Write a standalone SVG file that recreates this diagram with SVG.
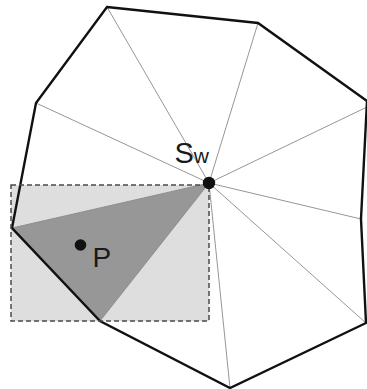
<svg xmlns="http://www.w3.org/2000/svg" width="367" height="389" viewBox="0 0 367 389">
  <style>
    .spoke { stroke: #8a8a8a; stroke-width: 0.9; fill: none; }
    .outline { stroke: #111; stroke-width: 2.4; fill: none; stroke-linejoin: miter; }
    .box { fill: #dedede; stroke: none; }
    .boxedge { fill: none; stroke: #4a4a4a; stroke-width: 1.5; stroke-dasharray: 5 3; }
    .tri { fill: #979797; stroke: none; }
    .dot { fill: #111; }
    .lbl { font-family: "Liberation Sans", Arial, sans-serif; fill: #1a1a1a; }
  </style>
  <rect width="367" height="389" fill="#fff"/>
  <g id="query-box">
    <rect class="box" x="11" y="185" width="198" height="136"/>
  </g>
  <g id="triangle">
    <polygon class="tri" points="209,183 12,228 100,321"/>
  </g>
  <g id="connectors">
    <line class="spoke" x1="209" y1="183" x2="107" y2="7"/>
    <line class="spoke" x1="209" y1="183" x2="258" y2="23"/>
    <line class="spoke" x1="209" y1="183" x2="367" y2="107"/>
    <line class="spoke" x1="209" y1="183" x2="36" y2="103"/>
    <line class="spoke" x1="209" y1="183" x2="12" y2="228"/>
    <line class="spoke" x1="209" y1="183" x2="100" y2="321"/>
    <line class="spoke" x1="209" y1="183" x2="230" y2="388"/>
    <line class="spoke" x1="209" y1="183" x2="366" y2="323"/>
    <line class="spoke" x1="209" y1="183" x2="361" y2="219"/>
  </g>
  <g id="polygon">
    <polygon class="outline" points="107,7 258,23 367,101 361,219 366,323 230,388 100,321 12,228 36,103"/>
  </g>
  <g id="query-box-edge">
    <rect class="boxedge" x="11" y="185" width="198" height="136"/>
  </g>
  <g id="Sw">
    <circle class="dot" cx="209" cy="183" r="6.2"/>
    <text class="lbl" x="174.5" y="163" font-size="29">S<tspan font-size="21">w</tspan></text>
  </g>
  <g id="P">
    <circle class="dot" cx="80.5" cy="245" r="5.8"/>
    <text class="lbl" x="92.5" y="266.5" font-size="28">P</text>
  </g>
</svg>
